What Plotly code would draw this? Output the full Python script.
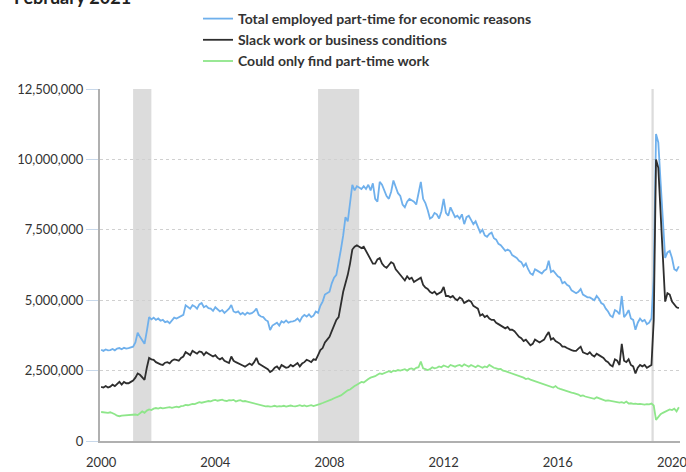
import plotly.graph_objects as go

# Monthly data, Jan 2000 .. Feb 2021 (thousands of persons)
tick_labels = ["2000", "2004", "2008", "2012", "2016", "2020"]
tick_months = [0, 50, 100, 150, 200, 250]

total_k = [
    3240, 3200, 3250, 3220, 3230, 3270, 3220, 3280, 3300, 3260, 3310, 3280,  # 2000
    3300, 3320, 3350, 3500, 3850, 3700, 3550, 3450, 3900, 4400, 4320, 4380,  # 2001
    4300, 4350, 4270, 4300, 4220, 4250, 4180, 4300, 4380, 4350, 4400, 4420,  # 2002
    4480, 4820, 4750, 4700, 4820, 4780, 4700, 4850, 4900, 4750, 4800, 4720,  # 2003
    4700, 4620, 4750, 4680, 4600, 4650, 4550, 4620, 4700, 4830, 4600, 4560,  # 2004
    4600, 4500, 4550, 4480, 4560, 4520, 4540, 4600, 4700, 4480, 4420, 4400,  # 2005
    4300, 4250, 3940, 4100, 4150, 4200, 4100, 4250, 4200, 4280, 4200, 4240,  # 2006
    4250, 4280, 4350, 4250, 4400, 4480, 4420, 4500, 4400, 4450, 4600, 4550,  # 2007
    4800, 4950, 5200, 5250, 5300, 5600, 5800, 5900, 6300, 6800, 7300, 7950,  # 2008
    7800, 8400, 9100, 8900, 9050, 9000, 8950, 9050, 8950, 9100, 8900, 9150,  # 2009
    8600, 8500, 9200, 9100, 8900, 8700, 8600, 8850, 9250, 9000, 8800, 8700,  # 2010
    8400, 8300, 8500, 8600, 8550, 8500, 8400, 8800, 9200, 8600, 8450, 8200,  # 2011
    7900, 7950, 8100, 8050, 7900, 8150, 8600, 8100, 8000, 8300, 8100, 7950,  # 2012
    8000, 7900, 8050, 7700, 7950, 8000, 7850, 7700, 7800, 7600, 7400, 7500,  # 2013
    7300, 7250, 7350, 7400, 7200, 7150, 7000, 6950, 6850, 6750, 6800, 6750,  # 2014
    6600, 6550, 6500, 6400, 6350, 6200, 6300, 6100, 5950, 5900, 6100, 6050,  # 2015
    6000, 5950, 6050, 6100, 6400, 6000, 6050, 5950, 5850, 5800, 5600, 5650,  # 2016
    5550, 5500, 5350, 5300, 5250, 5300, 5400, 5200, 5150, 5100, 5100, 5050,  # 2017
    5000, 5150, 5050, 4900, 4850, 4700, 4600, 4450, 4400, 4650, 4600, 4500,  # 2018
    5150, 4400, 4500, 4650, 4350, 4300, 3950, 4200, 4350, 4250, 4300, 4150,  # 2019
    4200, 4350, 5800, 10900, 10600, 9200, 7900, 6500, 6700, 6750, 6500, 6100,  # 2020
    6050, 6200,  # 2021
]

slack_k = [
    1920, 1900, 1950, 1900, 1930, 2000, 1950, 2020, 2100, 2000, 2100, 2050,  # 2000
    2050, 2100, 2150, 2250, 2400, 2350, 2250, 2170, 2600, 2950, 2900, 2880,  # 2001
    2800, 2750, 2720, 2700, 2780, 2800, 2760, 2850, 2900, 2880, 2850, 2950,  # 2002
    3000, 3160, 3100, 3050, 3200, 3150, 3100, 3180, 3160, 3050, 3150, 3100,  # 2003
    3050, 3000, 3050, 2950, 2900, 2950, 2850, 2800, 2770, 3000, 2850, 2800,  # 2004
    2750, 2700, 2680, 2640, 2700, 2750, 2700, 2800, 2950, 2750, 2700, 2650,  # 2005
    2600, 2550, 2450, 2500, 2600, 2650, 2550, 2700, 2650, 2600, 2620, 2700,  # 2006
    2650, 2700, 2770, 2650, 2750, 2800, 2880, 2850, 2800, 2900, 2880, 3050,  # 2007
    3230, 3300, 3500, 3600, 3700, 3900, 4100, 4300, 4400, 4900, 5300, 5600,  # 2008
    5900, 6300, 6800, 6900, 6950, 6900, 6850, 6900, 6750, 6600, 6500, 6300,  # 2009
    6300, 6450, 6500, 6300, 6200, 6150, 6250, 6350, 6300, 6100, 6000, 5900,  # 2010
    5800, 5700, 5850, 5750, 5800, 5650, 5700, 5750, 5800, 5550, 5450, 5400,  # 2011
    5300, 5250, 5300, 5200, 5250, 5300, 5470, 5150, 5150, 5100, 5150, 5050,  # 2012
    5000, 5100, 5050, 4900, 4950, 5000, 4950, 4800, 4750, 4700, 4450, 4500,  # 2013
    4400, 4450, 4350, 4300, 4300, 4200, 4150, 4100, 4050, 4000, 4050, 3950,  # 2014
    3950, 3900, 3800, 3700, 3650, 3550, 3600, 3480, 3400, 3450, 3600, 3550,  # 2015
    3500, 3550, 3600, 3750, 3870, 3600, 3650, 3550, 3500, 3450, 3350, 3350,  # 2016
    3300, 3250, 3230, 3200, 3200, 3280, 3350, 3150, 3100, 3080, 3150, 3050,  # 2017
    3000, 3100, 3050, 3000, 2950, 2850, 2800, 2700, 2650, 2900, 2850, 2700,  # 2018
    3450, 2850, 2800, 2900, 2700, 2650, 2400, 2600, 2700, 2650, 2700, 2600,  # 2019
    2650, 2700, 4300, 10000, 9700, 8000, 6500, 4950, 5250, 5200, 4950, 4850,  # 2020
    4750, 4720,  # 2021
]

only_pt_k = [
    1030, 1020, 1010, 1000, 1020, 990, 950, 900, 880, 900, 910, 920,  # 2000
    910, 920, 930, 940, 920, 1000, 1050, 1000, 1080, 1120, 1100, 1150,  # 2001
    1170, 1150, 1180, 1160, 1170, 1190, 1200, 1180, 1210, 1220, 1200, 1240,  # 2002
    1250, 1280, 1270, 1300, 1320, 1310, 1350, 1380, 1360, 1390, 1400, 1420,  # 2003
    1410, 1440, 1460, 1430, 1450, 1470, 1430, 1420, 1450, 1440, 1460, 1400,  # 2004
    1430, 1450, 1410, 1420, 1400, 1380, 1350, 1320, 1300, 1280, 1260, 1250,  # 2005
    1230, 1240, 1220, 1230, 1250, 1220, 1240, 1230, 1250, 1220, 1230, 1260,  # 2006
    1240, 1230, 1250, 1270, 1240, 1260, 1230, 1250, 1270, 1240, 1260, 1300,  # 2007
    1320, 1350, 1380, 1400, 1450, 1480, 1520, 1550, 1580, 1620, 1680, 1750,  # 2008
    1800, 1830, 1900, 1950, 2000, 2050, 2100, 2080, 2150, 2200, 2250, 2270,  # 2009
    2300, 2350, 2400, 2380, 2420, 2450, 2480, 2440, 2500, 2480, 2520, 2500,  # 2010
    2520, 2550, 2500, 2560, 2580, 2540, 2600, 2620, 2820, 2580, 2550, 2520,  # 2011
    2550, 2620, 2580, 2600, 2650, 2620, 2680, 2650, 2620, 2700, 2660, 2640,  # 2012
    2680, 2700, 2650, 2720, 2680, 2640, 2700, 2660, 2620, 2680, 2650, 2600,  # 2013
    2650, 2620, 2700, 2640, 2600, 2580, 2550, 2560, 2500, 2480, 2450, 2420,  # 2014
    2400, 2380, 2350, 2300, 2280, 2250, 2200, 2220, 2180, 2150, 2120, 2100,  # 2015
    2080, 2050, 2000, 1980, 1950, 1930, 1900, 1950, 1880, 1850, 1820, 1800,  # 2016
    1780, 1750, 1720, 1700, 1680, 1650, 1600, 1620, 1580, 1560, 1550, 1520,  # 2017
    1500, 1550, 1520, 1480, 1450, 1430, 1440, 1420, 1400, 1380, 1370, 1360,  # 2018
    1380, 1350, 1400, 1330, 1340, 1320, 1330, 1310, 1320, 1300, 1290, 1310,  # 2019
    1300, 1330, 1260, 750, 850, 950, 1000, 1050, 1100, 1120, 1100, 1150,  # 2020
    1050, 1200,  # 2021
]

# Recessions, as month indexes from Jan 2000
rec_start = [14, 95, 241]
rec_end = [22, 113, 242]

y_ticks = [0, 2500000, 5000000, 7500000, 10000000, 12500000]

months = list(range(len(total_k)))
font_family = "Lato, 'Open Sans', sans-serif"

fig = go.Figure()
series = [
    ("Total employed part-time for economic reasons", total_k, "#6fb0ec"),
    ("Slack work or business conditions", slack_k, "#2e2e2e"),
    ("Could only find part-time work", only_pt_k, "#8ee68a"),
]
for name, vals, color in series:
    fig.add_trace(go.Scatter(
        x=months, y=[v * 1000 for v in vals], mode="lines", name=name,
        line=dict(color=color, width=1.8),
    ))

for s, e in zip(rec_start, rec_end):
    fig.add_vrect(x0=s, x1=e, fillcolor="#dcdcdc", opacity=1, line_width=0, layer="below")

fig.add_annotation(
    text="<b>February 2021</b>", xref="paper", yref="paper",
    x=-0.152, y=1.2244, xanchor="left", yanchor="bottom", showarrow=False,
    font=dict(size=18, color="#222", family=font_family),
)

fig.update_layout(
    width=686, height=472,
    margin=dict(l=100, r=6, t=89, b=31, autoexpand=False),
    paper_bgcolor="white", plot_bgcolor="white",
    font=dict(family=font_family, color="#333", size=13),
    showlegend=True,
    legend=dict(
        xref="container", yref="container",
        x=198 / 686, y=1 - 3 / 472, xanchor="left", yanchor="top",
        font=dict(size=14, color="#333", weight="bold"),
        bgcolor="rgba(0,0,0,0)", tracegroupgap=0,
        itemwidth=30,
    ),
    xaxis=dict(
        range=[-0.5, 253.5], tickvals=tick_months, ticktext=tick_labels,
        showgrid=False, zeroline=False, showline=True, linecolor="#b0b0b0", linewidth=2,
        ticks="outside", ticklen=8, tickcolor="rgba(0,0,0,0)",
        tickfont=dict(size=13, color="#333"), automargin=False,
        ticklabeloverflow="allow",
    ),
    yaxis=dict(
        range=[0, 12500000], tickvals=y_ticks, tickformat=",d",
        showgrid=True, gridcolor="#d0d0d0", griddash="dot", gridwidth=1,
        zeroline=False, showline=True, linecolor="#b0b0b0", linewidth=2,
        ticks="outside", ticklen=12, tickcolor="#c8d8ea", tickwidth=1,
        tickfont=dict(size=13, color="#333"), automargin=False,
    ),
)

# remove the page's default body margin so the figure sits at the window's corner
fig.write_html(
    "out.html",
    config={"displayModeBar": False},
    post_script="document.body.style.margin='0';",
)
